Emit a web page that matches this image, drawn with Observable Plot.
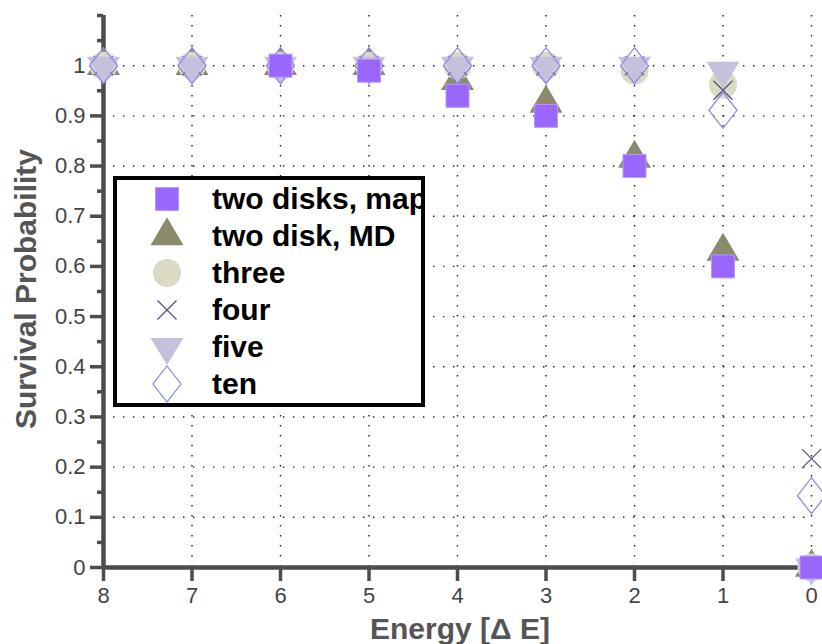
<!DOCTYPE html>
<html>
<head>
<meta charset="utf-8">
<script src="https://cdn.jsdelivr.net/npm/d3@7"></script>
<script src="https://cdn.jsdelivr.net/npm/@observablehq/plot@0.6"></script>
<style>
  html, body { margin: 0; padding: 0; background: #fff; }
  #chart { width: 822px; height: 644px; }
</style>
</head>
<body>
<div id="chart"></div>
<script>
// ---- data ----
const energies = [8, 7, 6, 5, 4, 3, 2, 1, 0];
const seriesNames = ["two disks, map", "two disk, MD", "three", "four", "five", "ten"];
const twoDisksMap = [null, null, 1.0, 0.99, 0.94, 0.90, 0.80, 0.60, 0.0];
const twoDiskMD   = [1.0, 1.0, 1.0, 1.0, 0.97, 0.925, 0.815, 0.63, 0.0];
const three       = [1.0, 1.0, 1.0, 1.0, 1.0, 1.0, 0.99, 0.962, 0.0];
const four        = [1.0, 1.0, 1.0, 1.0, 1.0, 1.0, 1.0, 0.951, 0.217];
const five        = [1.0, 1.0, 1.0, 1.0, 1.0, 1.0, 1.0, 0.99, 0.0];
const ten         = [1.0, 1.0, 1.0, 1.0, 1.0, 1.0, 1.0, 0.911, 0.143];
const yMajorTicks = [0, 0.1, 0.2, 0.3, 0.4, 0.5, 0.6, 0.7, 0.8, 0.9, 1];
const yMinorTicks = [0.05, 0.15, 0.25, 0.35, 0.45, 0.55, 0.65, 0.75, 0.85, 0.95, 1.05, 1.1];
const xTicks = [8, 7, 6, 5, 4, 3, 2, 1, 0];

// ---- symbols (fixed pixel shapes) ----
const symSquare = { draw(c) { const s = 11.5; c.moveTo(-s, -s); c.lineTo(s, -s); c.lineTo(s, s); c.lineTo(-s, s); c.closePath(); } };
const symTriUp = { draw(c) { const w = 16.5, h = 28; c.moveTo(0, -2 * h / 3); c.lineTo(w, h / 3); c.lineTo(-w, h / 3); c.closePath(); } };
const symCircle = { draw(c) { c.moveTo(14, 0); c.arc(0, 0, 14, 0, 2 * Math.PI); c.closePath(); } };
const symCross = { draw(c) { const s = 9.5; c.moveTo(-s, -s); c.lineTo(s, s); c.moveTo(s, -s); c.lineTo(-s, s); } };
const symTriDown = { draw(c) { const w = 16.5, h = 27; c.moveTo(-w, -h / 3); c.lineTo(w, -h / 3); c.lineTo(0, 2 * h / 3); c.closePath(); } };
const symDiamond = { draw(c) { c.moveTo(0, -18); c.lineTo(14, 0); c.lineTo(0, 18); c.lineTo(-14, 0); c.closePath(); } };

const styles = [
  { name: seriesNames[0], values: twoDisksMap, symbol: symSquare, fill: "#9b66fc", stroke: "#b49bff", strokeWidth: 1 },
  { name: seriesNames[1], values: twoDiskMD, symbol: symTriUp, fill: "#8b8a6d", stroke: "none", strokeWidth: 0 },
  { name: seriesNames[2], values: three, symbol: symCircle, fill: "#dcdac4", stroke: "none", strokeWidth: 0 },
  { name: seriesNames[3], values: four, symbol: symCross, fill: "none", stroke: "#5a4f7e", strokeWidth: 1.3 },
  { name: seriesNames[4], values: five, symbol: symTriDown, fill: "#c5c1dc", stroke: "none", strokeWidth: 0 },
  { name: seriesNames[5], values: ten, symbol: symDiamond, fill: "none", stroke: "#8585ee", strokeWidth: 1.2 }
];
// draw order: MD, three, four, five, ten, map (map on top)
const drawOrder = [1, 2, 3, 4, 5, 0];

const rowsFor = (s) => energies.map((e, i) => ({ energy: e, p: s.values[i] })).filter(d => d.p != null);

const axisColor = "#4d4d4d";
const labelColor = "#444";
const FONT = "'Liberation Sans', Arial, sans-serif";

const marks = [
  Plot.gridY(yMajorTicks.filter(t => t > 0), { stroke: "#222", strokeOpacity: 1, strokeWidth: 1.4, strokeDasharray: "1.4,8.6" }),
  Plot.gridX(xTicks.filter(t => t < 8), { stroke: "#222", strokeOpacity: 1, strokeWidth: 1.4, strokeDasharray: "1.4,8.6" }),
  Plot.axisY({ ticks: yMinorTicks, tickSize: 6, tickFormat: () => "", label: null, stroke: axisColor, strokeWidth: 3.5 }),
  Plot.axisY({ ticks: yMajorTicks, tickSize: 13, tickPadding: 5, tickFormat: d => String(d), label: null,
    stroke: axisColor, strokeWidth: 3.5, fill: labelColor, fontSize: 22 }),
  Plot.axisX({ ticks: xTicks, tickSize: 14, tickPadding: 6, tickFormat: d => String(d), label: null,
    stroke: axisColor, strokeWidth: 3.5, fill: labelColor, fontSize: 22 }),
  Plot.ruleX([8], { stroke: axisColor, strokeWidth: 4.5 }),
  Plot.ruleY([0], { stroke: axisColor, strokeWidth: 4.5 }),
  ...drawOrder.map(k => {
    const s = styles[k];
    return Plot.dot(rowsFor(s), { x: "energy", y: "p", symbol: s.symbol, r: 10, fill: s.fill, stroke: s.stroke, strokeWidth: s.strokeWidth });
  })
];

const chart = Plot.plot({
  width: 822,
  height: 644,
  marginLeft: 103,
  marginRight: 11,
  marginTop: 15,
  marginBottom: 77,
  x: { domain: [8, 0] },
  y: { domain: [0, 1.1] },
  style: { fontFamily: FONT, background: "#fff", overflow: "visible" },
  marks
});

document.getElementById("chart").appendChild(chart);

// ---- titles and legend ----
const svg = d3.select(chart);
svg.append("text")
  .attr("transform", "translate(36,289) rotate(-90)")
  .attr("text-anchor", "middle")
  .attr("font-family", FONT)
  .attr("font-weight", "bold").attr("font-size", 30).attr("fill", "#555")
  .text("Survival Probability");
svg.append("text")
  .attr("x", 460).attr("y", 639)
  .attr("text-anchor", "middle")
  .attr("font-family", FONT)
  .attr("font-weight", "bold").attr("font-size", 30).attr("fill", "#555")
  .text("Energy [\u0394 E]");

const lg = svg.append("g");
const box = { x: 115, y: 178, w: 308, h: 227 };
lg.append("rect").attr("x", box.x).attr("y", box.y).attr("width", box.w).attr("height", box.h).attr("fill", "#fff");
const clipId = "legclip";
svg.append("defs").append("clipPath").attr("id", clipId).append("rect")
  .attr("x", box.x).attr("y", box.y).attr("width", box.w).attr("height", box.h);
const inner = lg.append("g").attr("clip-path", `url(#${clipId})`);
styles.forEach((s, i) => {
  const cy = 199 + i * 37;
  const p = d3.path(); s.symbol.draw(p);
  inner.append("path").attr("transform", `translate(167,${cy})`).attr("d", p.toString())
    .attr("fill", s.fill).attr("stroke", s.stroke).attr("stroke-width", s.strokeWidth);
  inner.append("text").attr("x", 212).attr("y", cy + 10)
    .attr("text-anchor", "start")
    .attr("font-family", FONT)
    .attr("font-weight", "bold").attr("font-size", 30).attr("fill", "#000")
    .text(s.name);
});
lg.append("rect").attr("x", box.x).attr("y", box.y).attr("width", box.w).attr("height", box.h)
  .attr("fill", "none").attr("stroke", "#000").attr("stroke-width", 4);
</script>
</body>
</html>
